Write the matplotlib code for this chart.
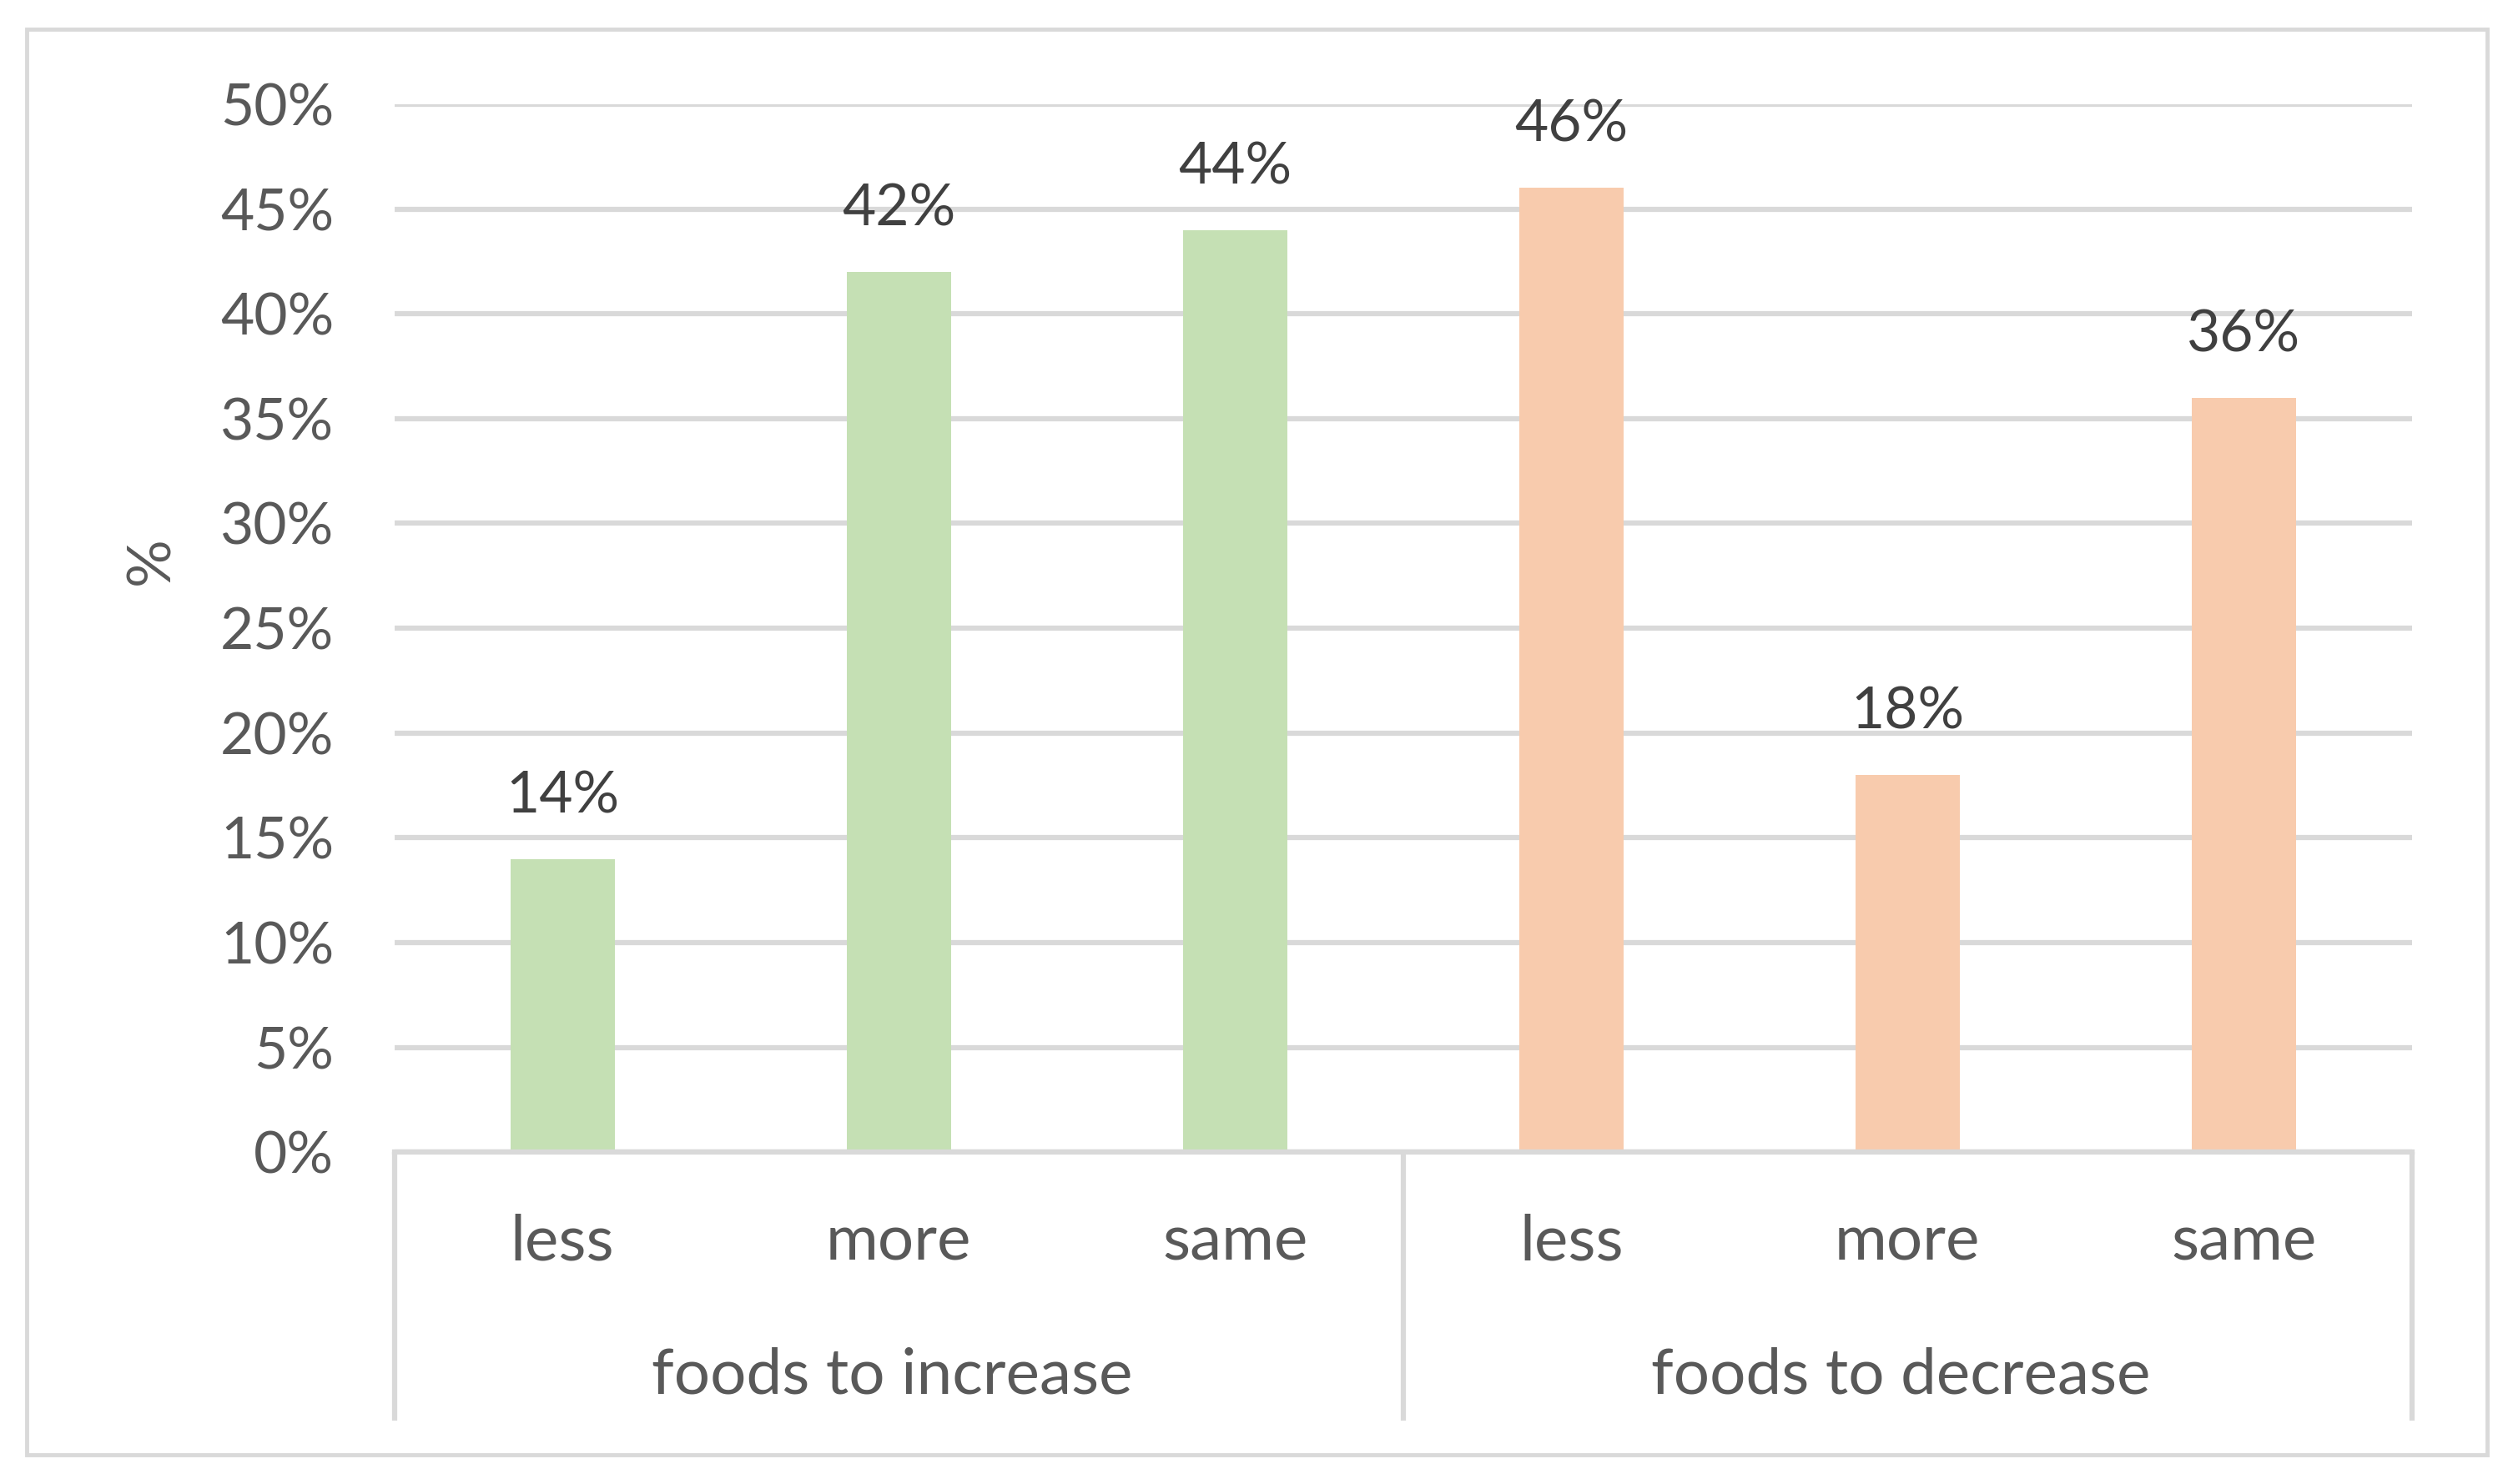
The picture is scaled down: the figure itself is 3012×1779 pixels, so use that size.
import numpy as np
import matplotlib
matplotlib.use("Agg")
import matplotlib.pyplot as plt
from matplotlib.patches import Rectangle
from matplotlib.ticker import PercentFormatter, MultipleLocator
import matplotlib.transforms as mtransforms

# Chart data
groups = ["foods to increase", "foods to decrease"]
answers = ["less", "more", "same"]
values_increase = [0.14, 0.42, 0.44]
values_decrease = [0.46, 0.18, 0.36]
colors = ["#C5E0B4", "#F8CBAD"]

plt.rcParams['font.family'] = ['Lato', 'DejaVu Sans']

fig = plt.figure(figsize=(30.12, 17.79), dpi=100)
ax = fig.add_axes([0.1569, 0.2235, 0.8029, 0.7063])

# Outer chart border
fig.patches.append(Rectangle((0.0105, 0.0197), 0.9792, 0.9607, transform=fig.transFigure,
                             fill=False, edgecolor="#D9D9D9", linewidth=3.5))

all_values = values_increase + values_decrease
x = np.arange(len(all_values))
bar_colors = [colors[0]] * len(values_increase) + [colors[1]] * len(values_decrease)
bars = ax.bar(x, all_values, width=0.31, color=bar_colors, zorder=3)

# Data labels above bars
for b, v in zip(bars, all_values):
    ax.annotate("{:.0f}%".format(v * 100), (b.get_x() + b.get_width() / 2, v),
                xytext=(0, 40), textcoords="offset points", ha="center", va="baseline",
                fontsize=50, color="#404040")

ax.set_xlim(-0.5, len(all_values) - 0.5)
ax.set_ylim(0, 0.5)
ax.yaxis.set_major_locator(MultipleLocator(0.05))
ax.yaxis.set_major_formatter(PercentFormatter(1, decimals=0))
ax.tick_params(axis="y", length=0, pad=52, labelsize=50, labelcolor="#595959")
ax.set_xticks([])
ax.grid(axis="y", color="#D9D9D9", linewidth=4.5, zorder=0)
for s in ["top", "right", "left"]:
    ax.spines[s].set_visible(False)
ax.spines["bottom"].set_color("#D9D9D9")
ax.spines["bottom"].set_linewidth(4.5)
ax.spines["bottom"].set_zorder(4)

# Multi-level category axis
trans = mtransforms.blended_transform_factory(ax.transData, ax.transAxes)
n = len(answers)
for g in range(len(groups) + 1):
    ax.plot([g * n - 0.5, g * n - 0.5], [0, -0.2556], transform=trans, clip_on=False,
            color="#D9D9D9", linewidth=4.5, solid_capstyle="butt")
for i, xi in enumerate(x):
    ax.text(xi, -0.086, answers[i % n], transform=trans, ha="center", va="center",
            fontsize=55, color="#595959")
for g, name in enumerate(groups):
    ax.text(g * n + (n - 1) / 2 - 0.02, -0.2126, name, transform=trans, ha="center", va="center",
            fontsize=55, color="#595959")

fig.text(0.0604, 0.6222, "%", rotation=90, ha="center", va="center", fontsize=52, color="#595959")

fig.savefig("out.png", dpi=100, facecolor="white")
